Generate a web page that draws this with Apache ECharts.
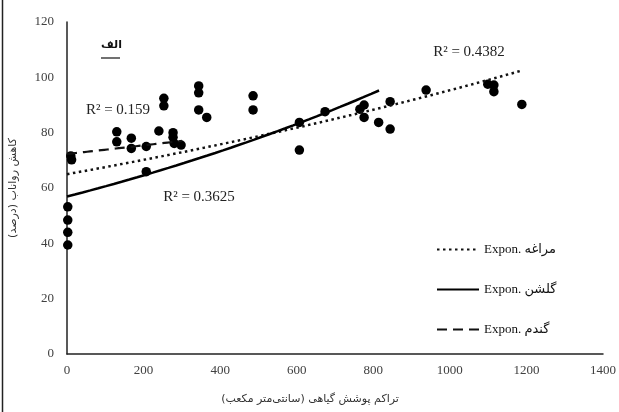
<!DOCTYPE html>
<html>
<head>
<meta charset="utf-8">
<script src="https://cdn.jsdelivr.net/npm/echarts@6/dist/echarts.min.js"></script>
<style>
  html, body { margin: 0; padding: 0; background: #fff; }
  #chart { width: 619px; height: 412px; }
</style>
</head>
<body>
<div id="chart"></div>
<script>
// Observed points: vegetation volume (cm³) vs. runoff reduction (%)
const maraghehX = [253, 253, 344, 344, 344, 365, 486, 486, 607, 776, 844, 844, 938, 1099, 1115, 1115, 1188];
const maraghehY = [92.4, 89.7, 96.9, 94.4, 88.2, 85.5, 93.3, 88.2, 73.7, 85.5, 91.2, 81.3, 95.4, 97.5, 97.2, 94.8, 90.2];
const golshanX = [2, 2, 2, 2, 207, 607, 674, 765, 776, 814];
const golshanY = [53.2, 48.4, 44.0, 39.4, 65.9, 83.7, 87.6, 88.5, 90.0, 83.7];
const gandomX = [10, 12, 130, 130, 168, 168, 207, 240, 277, 277, 280, 298];
const gandomY = [71.6, 70.2, 80.3, 76.7, 78.0, 74.3, 75.0, 80.6, 80.0, 78.3, 76.1, 75.5];

// Exponential trend lines y = a·e^(b·x) over [xFrom, xTo]
const maraghehTrend = [65.0, 0.000383, 0, 1188];
const golshanTrend = [56.9, 0.000632, 0, 815];
const gandomTrend = [72.3, 0.000211, 0, 300];

const siteNames = ['مراغه', 'گلشن', 'گندم'];
const rSquared = ['0.4382', '0.3625', '0.159'];
const xTicks = [0, 200, 400, 600, 800, 1000, 1200, 1400];
const yTicks = [0, 20, 40, 60, 80, 100, 120];

const SERIF = '"Liberation Serif", "Times New Roman", "DejaVu Sans", serif';
const ARABIC = '"DejaVu Sans", "Liberation Serif", sans-serif';

function zip(xs, ys) { return xs.map((x, i) => [x, ys[i]]); }
function trendCurve(p) {
  const [a, b, x0, x1] = p;
  const pts = [];
  const steps = 40;
  for (let i = 0; i <= steps; i++) {
    const x = x0 + (x1 - x0) * i / steps;
    pts.push([x, a * Math.exp(b * x)]);
  }
  return pts;
}

const scatterBase = {
  type: 'scatter', symbol: 'circle', symbolSize: 9.5,
  itemStyle: { color: '#000', opacity: 1 }, silent: true, z: 3
};
const lineBase = {
  type: 'line', showSymbol: false, symbol: 'none', smooth: false, silent: true, z: 4,
  itemStyle: { color: '#000' }
};

const chart = echarts.init(document.getElementById('chart'), null, { renderer: 'canvas' });
chart.setOption({
  animation: false,
  backgroundColor: '#fff',
  grid: { left: 65, right: 14, top: 22, bottom: 58, containLabel: false },
  xAxis: {
    type: 'value', min: xTicks[0], max: xTicks[xTicks.length - 1], interval: 200,
    name: 'تراکم پوشش گیاهی (سانتی‌متر مکعب)',
    nameLocation: 'middle', nameGap: 40,
    nameTextStyle: { fontFamily: ARABIC, fontSize: 11, color: '#333', padding: [0, 50, 0, 0] },
    axisLine: { show: true, onZero: false, lineStyle: { color: '#222', width: 1.5 } },
    axisTick: { show: false },
    splitLine: { show: false },
    axisLabel: { fontFamily: SERIF, fontSize: 13, color: '#404040', margin: 10, formatter: v => String(v) }
  },
  yAxis: {
    type: 'value', min: yTicks[0], max: yTicks[yTicks.length - 1], interval: 20,
    name: 'کاهش رواناب (درصد)',
    nameLocation: 'middle', nameGap: 48, nameRotate: 90,
    nameTextStyle: { fontFamily: ARABIC, fontSize: 11, color: '#333' },
    axisLine: { show: true, onZero: false, lineStyle: { color: '#222', width: 1.5 } },
    axisTick: { show: false },
    splitLine: { show: false },
    axisLabel: { fontFamily: SERIF, fontSize: 13, color: '#404040', margin: 13, formatter: v => String(v) }
  },
  legend: {
    orient: 'vertical', left: 431, top: 238, itemGap: 27,
    itemWidth: 42, itemHeight: 14,
    selectedMode: false,
    itemStyle: { opacity: 0 },
    textStyle: { fontFamily: SERIF, fontSize: 13, color: '#111' },
    data: siteNames.map(n => 'Expon. ' + n)
  },
  series: [
    Object.assign({}, scatterBase, { name: siteNames[0], data: zip(maraghehX, maraghehY) }),
    Object.assign({}, scatterBase, { name: siteNames[1], data: zip(golshanX, golshanY) }),
    Object.assign({}, scatterBase, { name: siteNames[2], data: zip(gandomX, gandomY) }),
    Object.assign({}, lineBase, {
      name: 'Expon. ' + siteNames[0], data: trendCurve(maraghehTrend),
      lineStyle: { color: '#111', width: 2.5, type: [2.5, 3.5], cap: 'butt' }
    }),
    Object.assign({}, lineBase, {
      name: 'Expon. ' + siteNames[1], data: trendCurve(golshanTrend),
      lineStyle: { color: '#000', width: 2.5, type: 'solid' }
    }),
    Object.assign({}, lineBase, {
      name: 'Expon. ' + siteNames[2], data: trendCurve(gandomTrend),
      lineStyle: { color: '#111', width: 2.2, type: [10, 6] }
    })
  ],
  graphic: [
    // page frame edge on the left
    { type: 'line', shape: { x1: 2.5, y1: 0, x2: 2.5, y2: 412 }, style: { stroke: '#222', lineWidth: 1.5 }, silent: true },
    // panel tag
    { type: 'text', left: 101, top: 40, style: { text: 'الف', font: 'bold 11px ' + ARABIC, fill: '#111' }, silent: true },
    { type: 'line', shape: { x1: 101, y1: 58, x2: 120, y2: 58 }, style: { stroke: '#111', lineWidth: 1.2 }, silent: true },
    // coefficients of determination
    { type: 'text', x: 469, y: 52, style: { text: 'R² = ' + rSquared[0], font: '15px ' + SERIF, fill: '#222', align: 'center', verticalAlign: 'middle' }, silent: true },
    { type: 'text', x: 199, y: 197, style: { text: 'R² = ' + rSquared[1], font: '15px ' + SERIF, fill: '#222', align: 'center', verticalAlign: 'middle' }, silent: true },
    { type: 'text', x: 118, y: 110, style: { text: 'R² = ' + rSquared[2], font: '15px ' + SERIF, fill: '#222', align: 'center', verticalAlign: 'middle' }, silent: true }
  ]
});
</script>
</body>
</html>
